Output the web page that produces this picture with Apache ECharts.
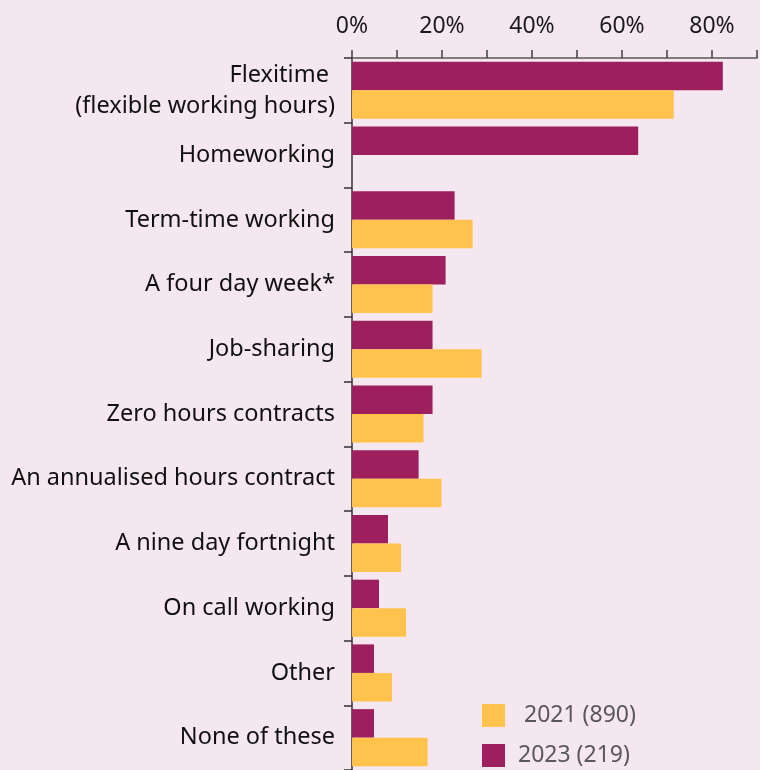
<!DOCTYPE html>
<html>
<head>
<meta charset="utf-8">
<script src="https://cdn.jsdelivr.net/npm/echarts@6/dist/echarts.min.js"></script>
<style>
html,body{margin:0;padding:0;background:#F5E7EF;}
#chart{width:760px;height:770px;}
</style>
</head>
<body>
<div id="chart"></div>
<script>
var categories = [
  'Flexitime \n(flexible working hours)',
  'Homeworking',
  'Term-time working',
  'A four day week*',
  'Job-sharing',
  'Zero hours contracts',
  'An annualised hours contract',
  'A nine day fortnight',
  'On call working',
  'Other',
  'None of these'
];
var values2023 = [82.4, 63.6, 22.8, 20.8, 17.9, 17.9, 14.8, 8.0, 6.0, 4.9, 4.9];
var values2021 = [71.5, null, 26.8, 17.9, 28.8, 15.9, 19.9, 10.9, 12.0, 8.9, 16.8];
var seriesNames = ['2023 (219)', '2021 (890)'];
var tickLabels = ['0%', '20%', '40%', '60%', '80%'];

var chart = echarts.init(document.getElementById('chart'), null, {renderer: 'canvas'});
var FONT = 'Noto Sans';
chart.setOption({
  backgroundColor: '#F5E7EF',
  animation: false,
  textStyle: {fontFamily: FONT},
  legend: {
    orient: 'vertical',
    left: 482,
    top: 704,
    padding: 0,
    width: 260,
    height: 66,
    itemWidth: 23,
    itemHeight: 23,
    itemGap: 17,
    icon: 'rect',
    data: [seriesNames[1], seriesNames[0]],
    formatter: function (n) { return n === seriesNames[1] ? ' ' + n : n; },
    textStyle: {fontFamily: FONT, fontSize: 23, color: '#595959', padding: [0, 0, 0, 8]}
  },
  grid: {left: 352, width: 406, top: 58, height: 715, containLabel: false},
  xAxis: {
    type: 'value',
    position: 'top',
    min: 0,
    max: 90,
    interval: 10,
    splitLine: {show: false},
    axisLine: {show: true, lineStyle: {color: '#595959', width: 1.5}},
    axisTick: {show: true, length: 8, inside: false, lineStyle: {color: '#404040', width: 1.5}},
    axisLabel: {
      margin: 20,
      fontSize: 23,
      color: '#1a1a1a',
      fontFamily: FONT,
      formatter: function (v) {
        var i = tickLabels.indexOf(v + '%');
        return i >= 0 ? tickLabels[i] : '';
      }
    }
  },
  yAxis: {
    type: 'category',
    inverse: true,
    data: categories,
    axisLine: {show: true, lineStyle: {color: '#333333', width: 1.5}},
    axisTick: {show: true, length: 8, lineStyle: {color: '#333333', width: 1.5}},
    axisLabel: {
      margin: 17,
      fontSize: 23.5,
      lineHeight: 31,
      color: '#111111',
      fontFamily: FONT,
      align: 'right'
    }
  },
  series: [
    {
      name: seriesNames[0],
      type: 'bar',
      data: values2023,
      barWidth: 28.5,
      barGap: '0%',
      itemStyle: {color: '#9E1F5E'}
    },
    {
      name: seriesNames[1],
      type: 'bar',
      data: values2021,
      barWidth: 28.5,
      barGap: '0%',
      itemStyle: {color: '#FFC34D'}
    }
  ]
});
</script>
</body>
</html>
